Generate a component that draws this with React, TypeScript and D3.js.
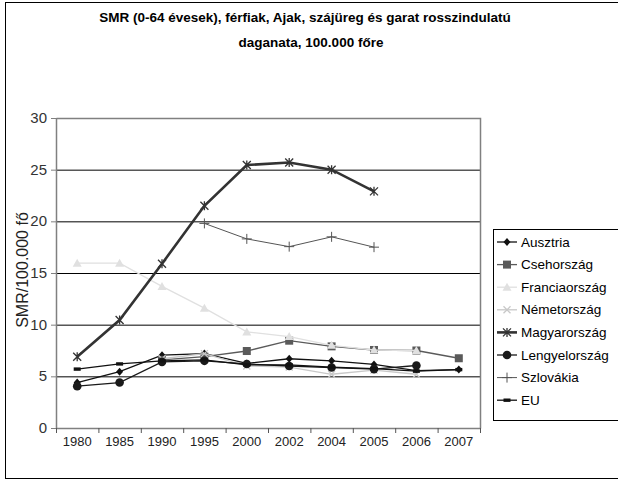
import * as d3 from "d3"

const years = ["1980", "1985", "1990", "1995", "2000", "2002", "2004", "2005", "2006", "2007"]

const ausztria = [4.4, 5.45, 7.05, 7.2, 6.25, 6.7, 6.5, 6.15, 5.55, 5.65]
const csehorszag = [null, null, 6.6, 6.9, 7.45, 8.45, 7.9, 7.55, 7.5, 6.75]
const franciaorszag = [15.95, 15.95, 13.7, 11.6, 9.3, 8.85, 8.0, 7.55, 7.5, null]
const nemetorszag = [null, null, 6.7, 7.2, 6.0, 5.9, 5.2, 5.6, 5.2, null]
const magyarorszag = [6.9, 10.45, 15.9, 21.5, 25.45, 25.7, 25.0, 22.9, null, null]
const lengyelorszag = [4.05, 4.4, 6.4, 6.5, 6.2, 6.0, 5.85, 5.7, 6.05, null]
const szlovakia = [null, null, null, 19.8, 18.3, 17.55, 18.5, 17.5, null, null]
const eu = [5.7, 6.2, 6.5, 6.6, 6.1, 6.1, 5.9, 5.75, 5.5, 5.65]

const yTicks = [0, 5, 10, 15, 20, 25, 30]

type Marker = "diamond" | "square" | "triangle" | "x" | "star" | "circle" | "plus" | "dash"

interface Series {
  name: string
  values: (number | null)[]
  color: string
  width: number
  marker: Marker
}

const series: Series[] = [
  { name: "Ausztria", values: ausztria, color: "#111", width: 1.3, marker: "diamond" },
  { name: "Csehország", values: csehorszag, color: "#5a5a5a", width: 1.3, marker: "square" },
  { name: "Franciaország", values: franciaorszag, color: "#e0e0e0", width: 1.3, marker: "triangle" },
  { name: "Németország", values: nemetorszag, color: "#c8c8c8", width: 1.3, marker: "x" },
  { name: "Magyarország", values: magyarorszag, color: "#333", width: 2.6, marker: "star" },
  { name: "Lengyelország", values: lengyelorszag, color: "#1a1a1a", width: 1.3, marker: "circle" },
  { name: "Szlovákia", values: szlovakia, color: "#555", width: 1, marker: "plus" },
  { name: "EU", values: eu, color: "#111", width: 1.3, marker: "dash" },
]

function MarkerShape({ type, x, y, color }: { type: Marker; x: number; y: number; color: string }) {
  switch (type) {
    case "diamond":
      return <path d={`M${x},${y - 4}L${x + 3.5},${y}L${x},${y + 4}L${x - 3.5},${y}Z`} fill={color} />
    case "square":
      return <rect x={x - 4} y={y - 4} width={8} height={8} fill={color} />
    case "triangle":
      return <path d={`M${x},${y - 4.5}L${x + 4.5},${y + 3.5}L${x - 4.5},${y + 3.5}Z`} fill={color} />
    case "x":
      return (
        <path d={`M${x - 3.5},${y - 3.5}L${x + 3.5},${y + 3.5}M${x + 3.5},${y - 3.5}L${x - 3.5},${y + 3.5}`} stroke={color} strokeWidth={1.3} />
      )
    case "star":
      return (
        <path
          d={`M${x - 4},${y - 4}L${x + 4},${y + 4}M${x + 4},${y - 4}L${x - 4},${y + 4}M${x},${y - 4.5}L${x},${y + 4.5}`}
          stroke={color}
          strokeWidth={1.3}
        />
      )
    case "circle":
      return <circle cx={x} cy={y} r={4.3} fill={color} />
    case "plus":
      return <path d={`M${x - 5},${y}L${x + 5},${y}M${x},${y - 5}L${x},${y + 5}`} stroke={color} strokeWidth={1} />
    case "dash":
      return <rect x={x - 3.5} y={y - 1.7} width={7} height={3.4} fill={color} />
  }
}

export default function App() {
  const width = 618
  const height = 481
  const plot = { left: 56, right: 480, top: 118, bottom: 428 }

  const x = d3.scaleBand<string>().domain(years).range([plot.left, plot.right])
  const y = d3.scaleLinear().domain([0, 30]).range([plot.bottom, plot.top])
  const cx = (c: string) => (x(c) ?? 0) + x.bandwidth() / 2

  const line = d3
    .line<number | null>()
    .defined((d) => d != null)
    .x((_, i) => cx(years[i]))
    .y((d) => y(d as number))

  const font = "'Liberation Sans', Arial, sans-serif"
  const legendX = 493
  const legendTop = 229
  const legendStep = 22.6

  return (
    <svg width={width} height={height} style={{ position: "absolute", left: 0, top: 0 }} fontFamily={font}>
      <rect x={0} y={0} width={width} height={height} fill="#fff" />
      <rect x={5.5} y={2.5} width={640} height={476} fill="none" stroke="#000" />

      {/* title */}
      <text x={305} y={22} textAnchor="middle" fontSize={13.5} fontWeight="bold">
        SMR (0-64 évesek), férfiak, Ajak, szájüreg és garat rosszindulatú
      </text>
      <text x={311} y={47} textAnchor="middle" fontSize={13.5} fontWeight="bold">
        daganata, 100.000 főre
      </text>

      {/* gridlines */}
      {yTicks.slice(1, -1).map((t) => (
        <line key={t} x1={plot.left} x2={plot.right} y1={y(t) + 0.5} y2={y(t) + 0.5} stroke="#000" />
      ))}
      <path
        d={`M${plot.left + 0.5},${plot.top + 0.5}H${plot.right + 0.5}V${plot.bottom + 0.5}`}
        fill="none"
        stroke="#808080"
        strokeWidth={1.5}
      />

      {/* axes */}
      <line x1={plot.left + 0.5} x2={plot.left + 0.5} y1={plot.top} y2={plot.bottom} stroke="#808080" strokeWidth={1.5} />
      <line x1={plot.left} x2={plot.right + 1} y1={plot.bottom + 0.5} y2={plot.bottom + 0.5} stroke="#808080" strokeWidth={1.5} />
      {yTicks.map((t) => (
        <g key={t}>
          <line x1={plot.left - 5} x2={plot.left} y1={y(t) + 0.5} y2={y(t) + 0.5} stroke="#808080" />
          <text x={47} y={y(t) + 5} textAnchor="end" fontSize={15} fill="#333">
            {t}
          </text>
        </g>
      ))}
      {years.map((c) => (
        <g key={c}>
          <line x1={(x(c) ?? 0) + 0.5} x2={(x(c) ?? 0) + 0.5} y1={plot.bottom} y2={plot.bottom + 5} stroke="#555" />
          <text x={cx(c)} y={446} textAnchor="middle" fontSize={13} fill="#222">
            {c}
          </text>
        </g>
      ))}
      <line x1={plot.right + 0.5} x2={plot.right + 0.5} y1={plot.bottom} y2={plot.bottom + 5} stroke="#555" />

      <text transform={`translate(28,${(plot.top + plot.bottom) / 2 - 3}) rotate(-90)`} textAnchor="middle" fontSize={16} fill="#222">
        SMR/100.000 fő
      </text>

      {/* series */}
      {series.map((s) => (
        <g key={s.name}>
          <path d={line(s.values) ?? ""} fill="none" stroke={s.color} strokeWidth={s.width} />
          {s.values.map((v, i) =>
            v == null ? null : <MarkerShape key={i} type={s.marker} x={cx(years[i])} y={y(v)} color={s.color} />
          )}
        </g>
      ))}

      {/* legend */}
      <rect x={legendX + 0.5} y={legendTop + 0.5} width={140} height={191} fill="#fff" stroke="#000" />
      {series.map((s, i) => {
        const ly = legendTop + 13 + i * legendStep
        return (
          <g key={s.name}>
            <line x1={legendX + 4} x2={legendX + 24} y1={ly} y2={ly} stroke={s.color} strokeWidth={s.width} />
            <MarkerShape type={s.marker} x={legendX + 14} y={ly} color={s.color} />
            <text x={legendX + 28} y={ly + 4.5} fontSize={13.5}>
              {s.name}
            </text>
          </g>
        )
      })}
    </svg>
  )
}
